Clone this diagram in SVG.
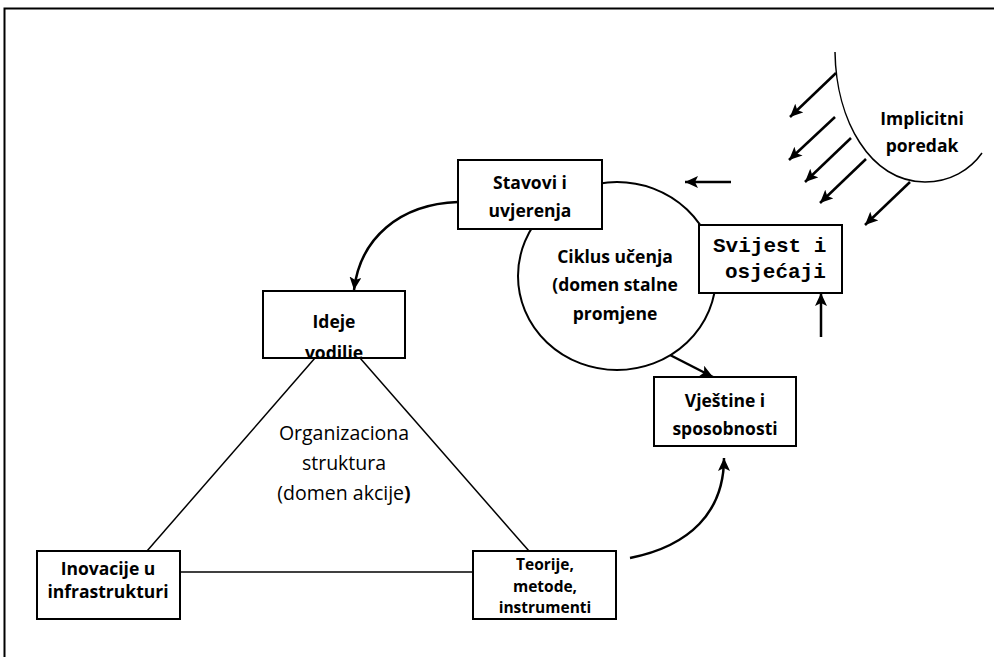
<svg xmlns="http://www.w3.org/2000/svg" width="994" height="657" viewBox="0 0 994 657">
<style>
.box{fill:#fff;stroke:#000;stroke-width:2}
.t{font-family:"Open Sans","Noto Sans","Liberation Sans",sans-serif;font-weight:bold;font-size:17.5px;text-anchor:middle;fill:#000}
.r{font-family:"Open Sans","Noto Sans","Liberation Sans",sans-serif;font-size:19.5px;text-anchor:middle;fill:#000}
.m{font-family:"Liberation Mono","Courier New",monospace;font-weight:bold;font-size:21px;fill:#000}
.ln{stroke:#000;stroke-width:1.5;fill:none}
.ar{stroke:#000;stroke-width:2.5;fill:none;marker-end:url(#ah)}
</style>
<defs>
<marker id="ah" markerUnits="userSpaceOnUse" markerWidth="14" markerHeight="12" refX="13" refY="6" orient="auto">
<path d="M0,0 L13,6 L0,12 L3,6 Z" fill="#000"/>
</marker>
</defs>
<rect width="994" height="657" fill="#fff"/>
<path d="M4.5,657 V8.5 H994" fill="none" stroke="#000" stroke-width="2"/>
<g id="connectors">
<line class="ln" x1="315" y1="358" x2="147" y2="551"/>
<line class="ln" x1="360" y1="358" x2="529" y2="551"/>
<line class="ln" x1="180" y1="572" x2="473" y2="572"/>
<path class="ar" d="M458,202 C400,204 360,238 354,290"/>
<path class="ar" d="M630,558 C690,546 724,512 724,458"/>
<line class="ar" x1="670" y1="355" x2="713" y2="377"/>
<line class="ar" x1="731" y1="182" x2="685" y2="182"/>
<line class="ar" x1="821" y1="337" x2="821" y2="293"/>
<line class="ar" x1="836" y1="73" x2="790" y2="117"/>
<line class="ar" x1="835" y1="117" x2="789" y2="160"/>
<line class="ar" x1="851" y1="138" x2="805" y2="182"/>
<line class="ar" x1="866" y1="159" x2="820" y2="203"/>
<line class="ar" x1="910" y1="182" x2="865" y2="225"/>
</g>
<g id="ciklus">
<ellipse cx="617" cy="276" rx="99" ry="94" fill="none" stroke="#000" stroke-width="2"/>
<text class="t" x="615" y="263">Ciklus učenja</text>
<text class="t" x="615" y="291">(domen stalne</text>
<text class="t" x="615" y="320">promjene</text>
</g>
<g id="implicitni">
<path d="M835,52 C836,120 870,182 925,182 C950,182 970,170 982,153" fill="none" stroke="#000" stroke-width="1.5"/>
<text class="t" x="922" y="125">Implicitni</text>
<text class="t" x="922" y="152">poredak</text>
</g>
<g id="stavovi">
<rect class="box" x="458" y="160" width="144" height="69"/>
<text class="t" x="530" y="189">Stavovi i</text>
<text class="t" x="530" y="217">uvjerenja</text>
</g>
<g id="svijest">
<rect class="box" x="699" y="225" width="143" height="68"/>
<text class="m" x="713" y="252">Svijest i</text>
<text class="m" x="725" y="278">osjećaji</text>
</g>
<g id="ideje">
<rect class="box" x="263" y="291" width="142" height="67"/>
<text class="t" x="334" y="328">Ideje</text>
<text class="t" x="334" y="359">vodilie</text>
</g>
<g id="vjestine">
<rect class="box" x="654" y="377" width="142" height="69"/>
<text class="t" x="725" y="407">Vještine i</text>
<text class="t" x="725" y="435">sposobnosti</text>
</g>
<g id="organizaciona">
<text class="r" x="344" y="440">Organizaciona</text>
<text class="r" x="344" y="470">struktura</text>
<text class="r" x="344" y="500">(domen akcije<tspan font-weight="bold">)</tspan></text>
</g>
<g id="inovacije">
<rect class="box" x="37" y="551" width="143" height="68"/>
<text class="t" x="108" y="575">Inovacije u</text>
<text class="t" x="108" y="598">infrastrukturi</text>
</g>
<g id="teorije">
<rect class="box" x="473" y="551" width="143" height="68"/>
<text class="t" x="545" y="570" style="font-size:15.5px">Teorije,</text>
<text class="t" x="545" y="592" style="font-size:15.5px">metode,</text>
<text class="t" x="545" y="613" style="font-size:15.5px">instrumenti</text>
</g>
</svg>
